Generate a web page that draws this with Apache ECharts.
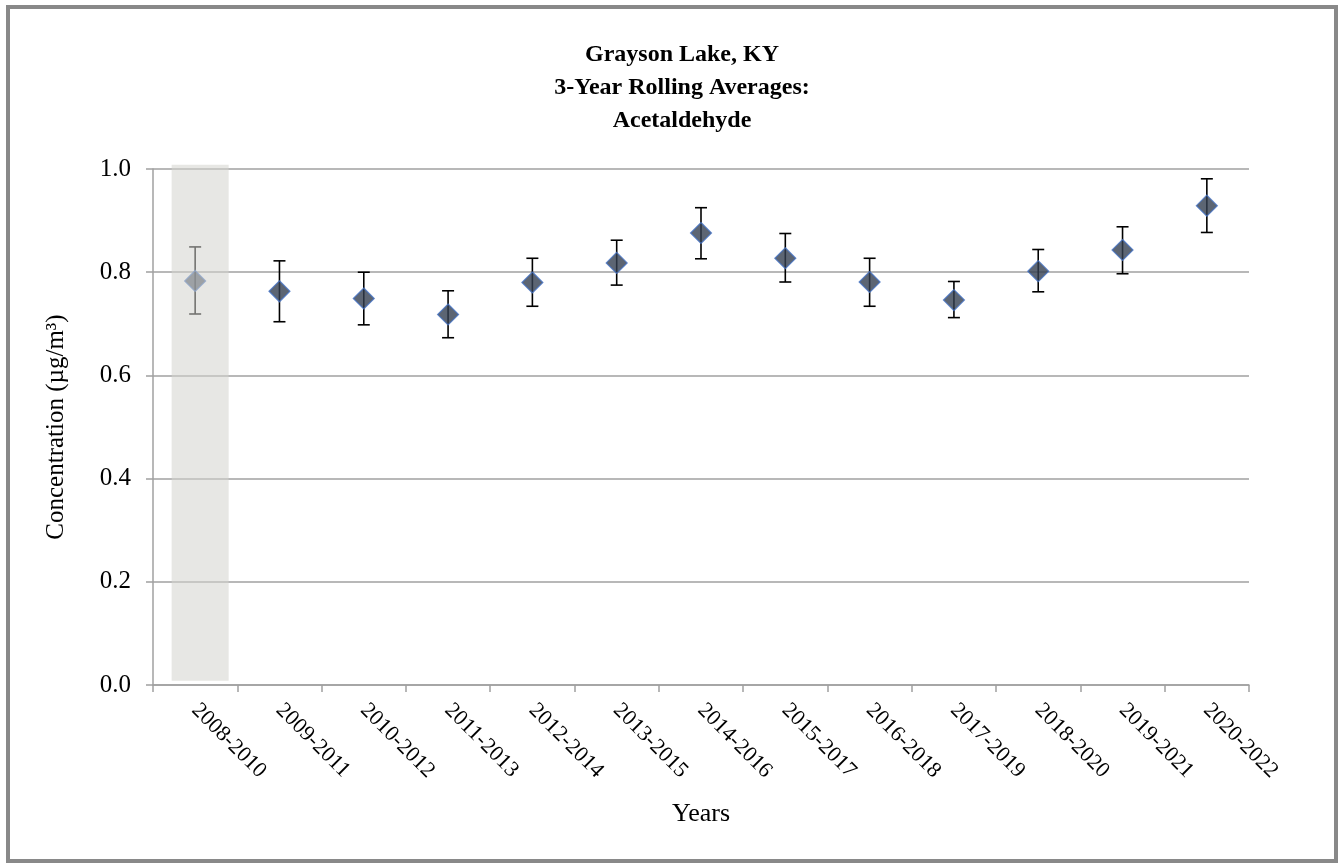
<!DOCTYPE html>
<html>
<head>
<meta charset="utf-8">
<script src="https://cdn.jsdelivr.net/npm/echarts@6/dist/echarts.min.js"></script>
<style>
  html, body { margin: 0; padding: 0; background: #fff; }
  #chart { width: 1340px; height: 863px; }
</style>
</head>
<body>
<div id="chart"></div>
<script>
// 3-year periods
var periods = ['2008-2010', '2009-2011', '2010-2012', '2011-2013', '2012-2014', '2013-2015',
    '2014-2016', '2015-2017', '2016-2018', '2017-2019', '2018-2020', '2019-2021', '2020-2022'];
// rolling averages (ug/m3)
var averages = [0.783, 0.763, 0.749, 0.718, 0.780, 0.818, 0.876, 0.827, 0.781, 0.746, 0.802, 0.843, 0.929];
// error bar ends
var lowerBounds = [0.719, 0.704, 0.698, 0.673, 0.734, 0.775, 0.826, 0.781, 0.734, 0.712, 0.762, 0.797, 0.877];
var upperBounds = [0.849, 0.822, 0.800, 0.764, 0.827, 0.862, 0.925, 0.875, 0.827, 0.782, 0.844, 0.888, 0.981];
// greyed-out period
var shadedPeriods = ['2008-2010'];
var yTicks = [0, 0.2, 0.4, 0.6, 0.8, 1.0];

var font = '"Liberation Serif", "Times New Roman", serif';

var errorData = periods.map(function (p, i) {
    return [i, lowerBounds[i], upperBounds[i]];
});
var bandData = shadedPeriods.map(function (p) {
    return [periods.indexOf(p), 0.008, 1.008];
});

var myChart = echarts.init(document.getElementById('chart'));

var option = {
    backgroundColor: '#fff',
    animation: false,
    title: {
        text: 'Grayson Lake, KY\n3-Year Rolling Averages:\nAcetaldehyde',
        left: 677,
        top: 33,
        textAlign: 'center',
        textStyle: {
            fontFamily: font,
            fontSize: 24,
            fontWeight: 'bold',
            color: '#000',
            lineHeight: 33
        }
    },
    graphic: [{
        type: 'rect',
        shape: { x: 8, y: 7, width: 1328, height: 854 },
        style: { fill: 'none', stroke: '#898989', lineWidth: 4 },
        silent: true
    }],
    grid: { left: 153, right: 91, top: 169, bottom: 178 },
    xAxis: {
        type: 'category',
        data: periods,
        name: 'Years',
        nameLocation: 'middle',
        nameGap: 116,
        nameTextStyle: { fontFamily: font, fontSize: 26, color: '#000' },
        axisLine: { lineStyle: { color: '#a0a0a0', width: 1.5 } },
        axisTick: { show: true, length: 7, lineStyle: { color: '#a0a0a0', width: 1.5 } },
        axisLabel: { rotate: -45, margin: 22, fontFamily: font, fontSize: 22, color: '#000', interval: 0 },
        splitLine: { show: false }
    },
    yAxis: {
        type: 'value',
        min: yTicks[0],
        max: yTicks[yTicks.length - 1],
        interval: 0.2,
        name: 'Concentration (µg/m³)',
        nameLocation: 'middle',
        nameGap: 84,
        nameTextStyle: { fontFamily: font, fontSize: 25, color: '#000' },
        axisLine: { show: true, lineStyle: { color: '#a0a0a0', width: 1.5 } },
        axisTick: { show: true, length: 7, inside: false, lineStyle: { color: '#a0a0a0', width: 1.5 } },
        axisLabel: {
            margin: 22, fontFamily: font, fontSize: 25, color: '#000',
            formatter: function (v) { return v.toFixed(1); }
        },
        splitLine: { lineStyle: { color: '#a0a0a0', width: 1.5 } }
    },
    series: [
        {
            type: 'custom',
            name: 'error',
            data: errorData,
            z: 3,
            renderItem: function (params, api) {
                var lo = api.coord([api.value(0), api.value(1)]);
                var hi = api.coord([api.value(0), api.value(2)]);
                var w = 6;
                var st = { stroke: '#000', lineWidth: 1.6 };
                return {
                    type: 'group',
                    children: [
                        { type: 'line', shape: { x1: lo[0], y1: lo[1], x2: hi[0], y2: hi[1] }, style: st },
                        { type: 'line', shape: { x1: lo[0] - w, y1: lo[1], x2: lo[0] + w, y2: lo[1] }, style: st },
                        { type: 'line', shape: { x1: hi[0] - w, y1: hi[1], x2: hi[0] + w, y2: hi[1] }, style: st }
                    ]
                };
            }
        },
        {
            type: 'scatter',
            name: 'average',
            data: averages,
            z: 4,
            symbol: 'diamond',
            symbolSize: 21,
            itemStyle: { color: '#333f50', borderColor: '#4472c4', borderWidth: 1.2 }
        },
        {
            type: 'custom',
            name: 'band',
            data: bandData,
            z: 10,
            silent: true,
            renderItem: function (params, api) {
                var lo = api.coord([api.value(0), api.value(1)]);
                var hi = api.coord([api.value(0), api.value(2)]);
                var w = 57;
                return {
                    type: 'rect',
                    shape: { x: lo[0] - w / 2 + 5, y: hi[1], width: w, height: lo[1] - hi[1] },
                    style: { fill: 'rgba(212, 212, 206, 0.55)' }
                };
            }
        }
    ]
};

myChart.setOption(option);
</script>
</body>
</html>
